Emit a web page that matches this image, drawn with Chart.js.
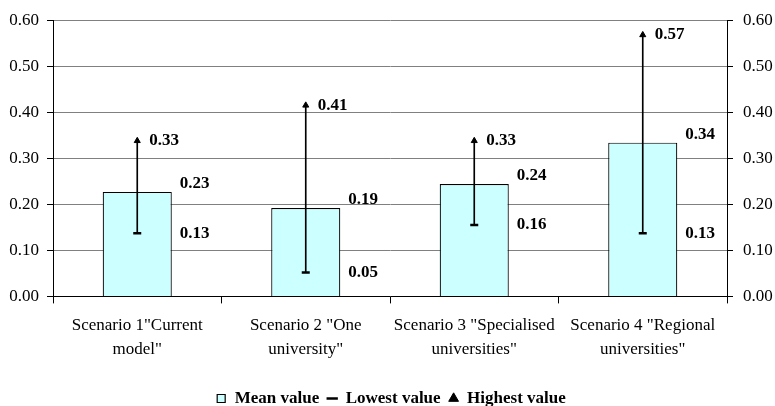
<!DOCTYPE html>
<html>
<head>
<meta charset="utf-8">
<script src="https://cdn.jsdelivr.net/npm/chart.js@4.4.0/dist/chart.umd.min.js"></script>
<style>
  html, body { margin: 0; padding: 0; background: #fff; }
  #wrap { width: 775px; height: 406px; }
</style>
</head>
<body>
<div id="wrap"><canvas id="myChart"></canvas></div>
<script>
const scenarios = [
  ['Scenario 1"Current', 'model"'],
  ['Scenario 2 "One', 'university"'],
  ['Scenario 3 "Specialised', 'universities"'],
  ['Scenario 4 "Regional', 'universities"']
];
const meanValues = [0.227, 0.192, 0.244, 0.334];
const lowValues = [0.137, 0.052, 0.155, 0.137];
const highValues = [0.338, 0.415, 0.338, 0.568];
const meanLabels = ['0.23', '0.19', '0.24', '0.34'];
const lowLabels = ['0.13', '0.05', '0.16', '0.13'];
const highLabels = ['0.33', '0.41', '0.33', '0.57'];
const yTicks = [0, 0.1, 0.2, 0.3, 0.4, 0.5, 0.6];

const serif = "'Liberation Serif', 'Times New Roman', serif";

// writes the value labels next to bars and markers
const valueLabels = {
  id: 'valueLabels',
  afterDatasetsDraw(chart) {
    const ctx = chart.ctx;
    const bars = chart.getDatasetMeta(0).data;
    const lows = chart.getDatasetMeta(2).data;
    const highs = chart.getDatasetMeta(3).data;
    ctx.save();
    ctx.font = 'bold 17px ' + serif;
    ctx.fillStyle = '#000';
    ctx.textBaseline = 'middle';
    ctx.textAlign = 'left';
    bars.forEach((b, i) => {
      const right = b.x + b.width / 2;
      ctx.fillText(meanLabels[i], right + 8, b.y - 8);
      ctx.fillText(lowLabels[i], right + 8, lows[i].y);
      ctx.fillText(highLabels[i], highs[i].x + 12, highs[i].y);
    });
    ctx.restore();
  }
};

const ctx = document.getElementById('myChart').getContext('2d');
const myChart = new Chart(ctx, {
  data: {
    labels: scenarios,
    datasets: [{
      type: 'bar',
      label: 'Mean value',
      data: meanValues,
      backgroundColor: '#CCFFFF',
      borderColor: '#000',
      borderWidth: 1.2,
      categoryPercentage: 0.41,
      barPercentage: 1,
      grouped: false,
      pointStyle: 'rect',
      order: 1
    }, {
      type: 'bar',
      label: '',
      data: lowValues.map((l, i) => [l, highValues[i]]),
      backgroundColor: '#000',
      barThickness: 1,
      grouped: false,
      order: 0
    }, {
      type: 'line',
      label: 'Lowest value',
      data: lowValues,
      showLine: false,
      pointStyle: 'line',
      pointRadius: 4,
      pointBorderWidth: 2.5,
      borderColor: '#000',
      backgroundColor: '#000',
      borderWidth: 2.5,
      order: 0
    }, {
      type: 'line',
      label: 'Highest value',
      data: highValues,
      showLine: false,
      pointStyle: 'triangle',
      pointRadius: 3.5,
      borderColor: '#000',
      backgroundColor: '#000',
      borderWidth: 1,
      order: 0
    }]
  },
  options: {
    responsive: true,
    maintainAspectRatio: false,
    animation: false,
    layout: { padding: { left: 8, right: 1, top: 17, bottom: -11 } },
    plugins: {
      tooltip: { enabled: false },
      legend: {
        position: 'bottom',
        labels: {
          filter: item => item.text !== '',
          sort: (a, b) => a.datasetIndex - b.datasetIndex,
          usePointStyle: true,
          boxWidth: 10,
          boxHeight: 8,
          padding: 8,
          color: '#000',
          font: { family: serif, size: 17, weight: 'bold' }
        }
      }
    },
    scales: {
      x: {
        offset: true,
        afterFit: scale => {
          scale.height += 11;
          scale.paddingLeft = 0;
          scale.paddingRight = 0;
        },
        grid: { display: true, offset: true, drawOnChartArea: false, drawTicks: true, tickLength: 7, color: '#000' },
        border: { color: '#000', width: 1 },
        ticks: { color: '#000', font: { family: serif, size: 17, lineHeight: 1.4 }, maxRotation: 0, padding: 10 }
      },
      y: {
        position: 'left',
        min: 0,
        max: 0.6,
        afterBuildTicks: axis => { axis.ticks = yTicks.map(v => ({ value: v })); },
        afterFit: scale => { scale.width = 45; },
        grid: { color: '#808080', tickLength: 6, tickColor: '#000' },
        border: { color: '#000', width: 1 },
        ticks: { color: '#000', font: { family: serif, size: 17 }, padding: 8, callback: v => v.toFixed(2) }
      },
      y2: {
        position: 'right',
        min: 0,
        max: 0.6,
        afterBuildTicks: axis => { axis.ticks = yTicks.map(v => ({ value: v })); },
        afterFit: scale => { scale.width = 47; },
        grid: { drawOnChartArea: false, tickLength: 6, color: '#000' },
        border: { color: '#000', width: 1 },
        ticks: { color: '#000', font: { family: serif, size: 17 }, padding: 10, callback: v => v.toFixed(2) }
      }
    }
  },
  plugins: [valueLabels]
});
</script>
</body>
</html>
